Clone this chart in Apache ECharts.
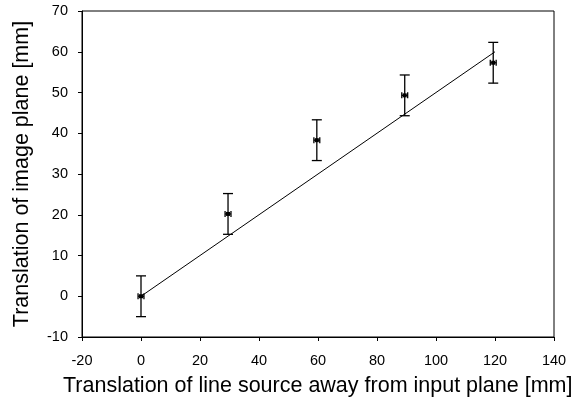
<!DOCTYPE html>
<html>
<head>
<meta charset="utf-8">
<script src="https://cdn.jsdelivr.net/npm/echarts@6/dist/echarts.min.js"></script>
<style>
  html, body { margin: 0; padding: 0; background: #fff; }
  #chart { width: 575px; height: 403px; }
</style>
</head>
<body>
<div id="chart"></div>
<script>
// measured points (mm)
const xVals = [0, 29.5, 59.6, 89.4, 119.4];
const yVals = [0, 20.2, 38.3, 49.3, 57.3];
const yErr = [5, 5, 5, 5, 5];
const xErr = [1, 1, 1, 1, 1];
// linear fit line
const fitX = [0, 120];
const fitY = [0, 60];

const points = xVals.map((x, i) => [x, yVals[i], xErr[i], yErr[i]]);

const chart = echarts.init(document.getElementById('chart'), null, { renderer: 'canvas' });

const font = 'Liberation Sans, Arial, sans-serif';

function renderErr(params, api) {
  const x = api.value(0), y = api.value(1), ex = api.value(2), ey = api.value(3);
  const c = api.coord([x, y]);
  const top = api.coord([x, y + ey]);
  const bot = api.coord([x, y - ey]);
  const l = api.coord([x - ex, y]);
  const r = api.coord([x + ex, y]);
  const st = { stroke: '#000', lineWidth: 1.3 };
  const cap = 5, hcap = 3;
  return {
    type: 'group',
    children: [
      { type: 'line', shape: { x1: c[0], y1: top[1], x2: c[0], y2: bot[1] }, style: st },
      { type: 'line', shape: { x1: c[0] - cap, y1: top[1], x2: c[0] + cap, y2: top[1] }, style: st },
      { type: 'line', shape: { x1: c[0] - cap, y1: bot[1], x2: c[0] + cap, y2: bot[1] }, style: st },
      { type: 'line', shape: { x1: l[0], y1: c[1], x2: r[0], y2: c[1] }, style: st },
      { type: 'line', shape: { x1: l[0], y1: c[1] - hcap, x2: l[0], y2: c[1] + hcap }, style: st },
      { type: 'line', shape: { x1: r[0], y1: c[1] - hcap, x2: r[0], y2: c[1] + hcap }, style: st },
      { type: 'rect', shape: { x: c[0] - 2, y: c[1] - 2, width: 4, height: 4 }, style: { fill: '#000' } }
    ]
  };
}

chart.setOption({
  animation: false,
  grid: { left: 82, right: 21, top: 11, bottom: 66, show: true, borderColor: '#000', borderWidth: 1 },
  xAxis: {
    type: 'value', min: -20, max: 140, interval: 20,
    axisLine: { show: true, onZero: false, lineStyle: { color: '#000', width: 1 } },
    axisTick: { show: true, inside: false, length: 4, lineStyle: { color: '#000' } },
    axisLabel: { color: '#000', fontSize: 14.5, fontFamily: font, margin: 16 },
    splitLine: { show: false }
  },
  yAxis: {
    type: 'value', min: -10, max: 70, interval: 10,
    axisLine: { show: true, onZero: false, lineStyle: { color: '#000', width: 1 } },
    axisTick: { show: true, inside: false, length: 4, lineStyle: { color: '#000' } },
    axisLabel: { color: '#000', fontSize: 14.5, fontFamily: font, margin: 14 },
    splitLine: { show: false }
  },
  graphic: [
    {
      type: 'text', left: 63, top: 375,
      style: { text: 'Translation of line source away from input plane [mm]', font: '21.5px ' + font, fill: '#000' }
    },
    {
      type: 'text', x: 11, y: 174, rotation: Math.PI / 2,
      style: { text: 'Translation of image plane [mm]', font: '21.5px ' + font, fill: '#000', align: 'center', verticalAlign: 'top' }
    }
  ],
  series: [
    {
      type: 'line', data: fitX.map((x, i) => [x, fitY[i]]),
      symbol: 'none', lineStyle: { color: '#000', width: 1 }, z: 2
    },
    {
      type: 'custom', data: points, renderItem: renderErr, z: 3
    }
  ]
});
</script>
</body>
</html>
